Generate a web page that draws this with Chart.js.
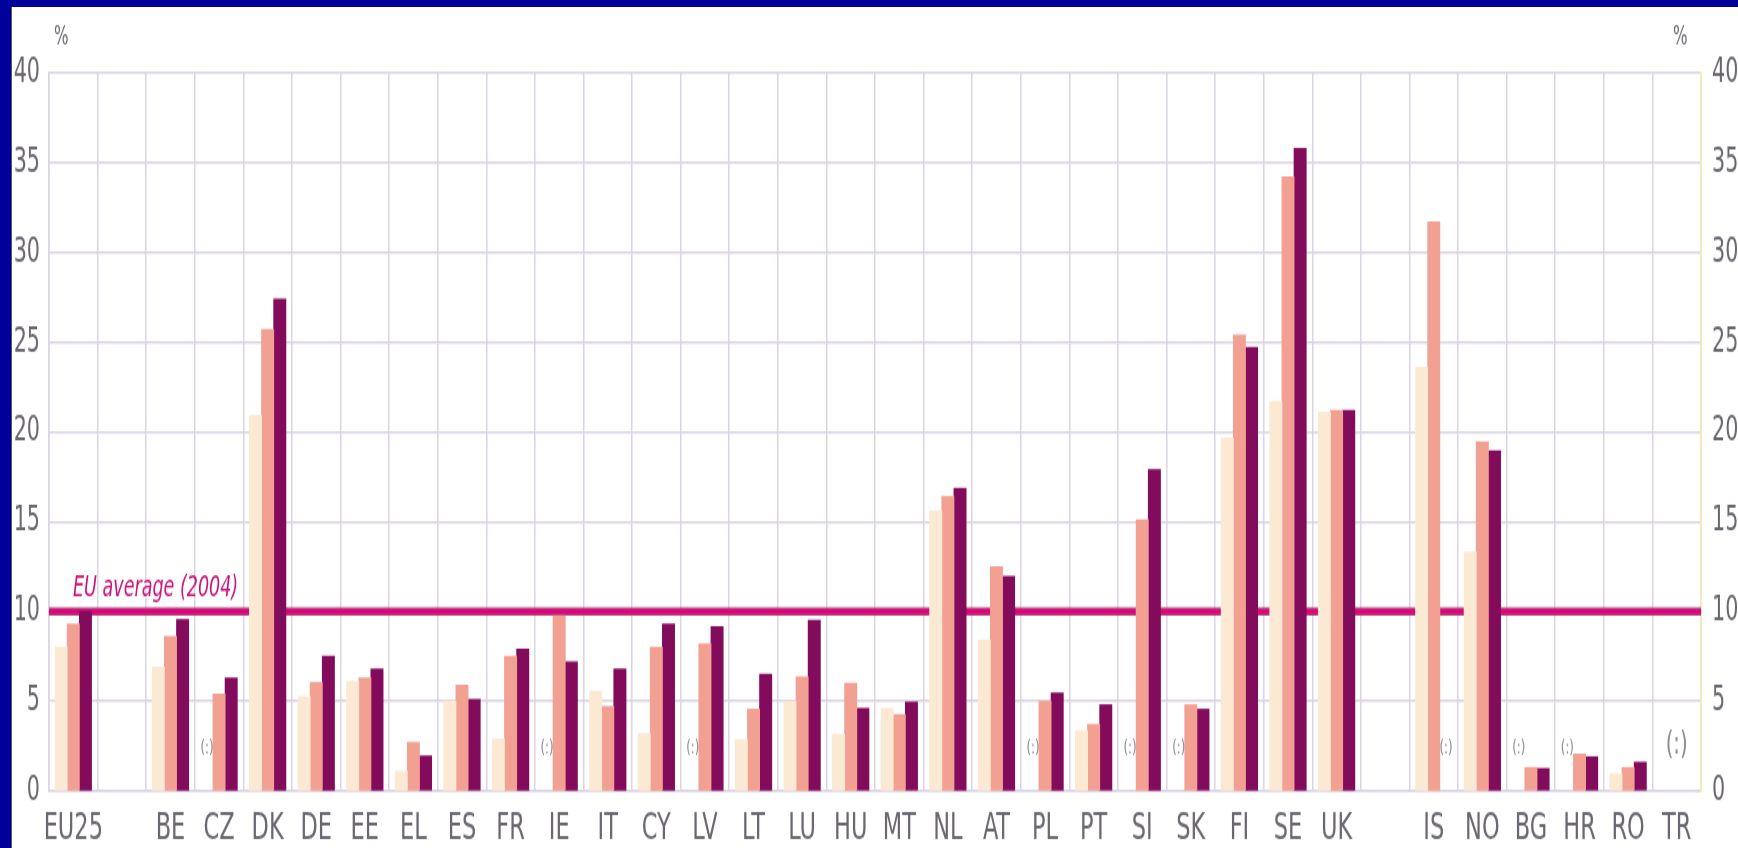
<!DOCTYPE html>
<html>
<head>
<meta charset="utf-8">
<script src="https://cdn.jsdelivr.net/npm/chart.js@4.4.1/dist/chart.umd.min.js"></script>
<style>
  html, body { margin: 0; padding: 0; }
  body { width: 1738px; height: 848px; background: #00009a; position: relative; overflow: hidden; }
  #wrap { position: absolute; left: 11px; top: 7px; width: 1727px; height: 841px; background: #ffffff; border-left: 1px solid #555; box-sizing: border-box; }
  #c { display: block; width: 1726px; height: 841px; }
</style>
</head>
<body>
<div id="wrap"><canvas id="c" width="1726" height="561" style="width:1726px;height:841px"></canvas></div>
<script>
// ---- Data ----
const categories = ['EU25', '', 'BE', 'CZ', 'DK', 'DE', 'EE', 'EL', 'ES', 'FR', 'IE', 'IT', 'CY', 'LV', 'LT', 'LU', 'HU', 'MT', 'NL', 'AT', 'PL', 'PT', 'SI', 'SK', 'FI', 'SE', 'UK', '', 'IS', 'NO', 'BG', 'HR', 'RO', 'TR'];
const lightValues = [8.0, null, 6.9, null, 20.9, 5.25, 6.1, 1.1, 5.0, 2.9, null, 5.55, 3.2, null, 2.85, 5.0, 3.15, 4.6, 15.6, 8.4, null, 3.35, null, null, 19.65, 21.7, 21.1, null, 23.6, 13.3, null, null, 0.95, null];
const midValues   = [9.3, null, 8.6, 5.4, 25.7, 6.05, 6.3, 2.7, 5.9, 7.5, 9.75, 4.7, 8.0, 8.2, 4.55, 6.35, 6.0, 4.25, 16.4, 12.5, 5.0, 3.7, 15.1, 4.8, 25.4, 34.2, 21.2, null, 31.7, 19.45, 1.3, 2.05, 1.3, null];
const darkValues  = [10.0, null, 9.55, 6.3, 27.4, 7.5, 6.8, 1.95, 5.1, 7.9, 7.2, 6.8, 9.3, 9.15, 6.5, 9.5, 4.6, 4.95, 16.85, 11.95, 5.45, 4.8, 17.9, 4.55, 24.7, 35.8, 21.2, null, null, 18.95, 1.25, 1.9, 1.6, null];
const seriesNames = ['Series 1', 'Series 2', 'Series 3 (2004)'];
const yTicks = [0, 5, 10, 15, 20, 25, 30, 35, 40];
const euAverage = 10;
const euAverageLabel = 'EU average (2004)';
const missingMark = '(:)';
const unitLabel = '%';

const textGray = '#6b6670';
const gridColor = '#dcd3e4';
const cond = "'DejaVu Sans Condensed', 'DejaVu Sans', sans-serif";

const extras = {
  id: 'extras',
  beforeDatasetsDraw(chart) {
    const ctx = chart.ctx, a = chart.chartArea, y = chart.scales.y;
    const py = y.getPixelForValue(euAverage);
    ctx.save();
    ctx.lineCap = 'butt';
    ctx.strokeStyle = '#a8447a';
    ctx.lineWidth = 5.5;
    ctx.beginPath(); ctx.moveTo(a.left, py); ctx.lineTo(a.right, py); ctx.stroke();
    ctx.strokeStyle = '#e4007d';
    ctx.lineWidth = 3;
    ctx.beginPath(); ctx.moveTo(a.left, py); ctx.lineTo(a.right, py); ctx.stroke();
    ctx.restore();
  },
  afterDatasetsDraw(chart) {
    const ctx = chart.ctx, a = chart.chartArea, x = chart.scales.x, y = chart.scales.y;
    const series = [lightValues, midValues, darkValues];
    const slot = (a.right - a.left) / categories.length;
    const barW = slot * 0.75 / 3;
    ctx.save();
    // EU average label
    ctx.fillStyle = '#c8157a';
    ctx.font = "italic 19.5px " + cond;
    ctx.textAlign = 'left';
    ctx.textBaseline = 'alphabetic';
    ctx.fillText(euAverageLabel, a.left + 24, y.getPixelForValue(euAverage) - 10);
    // missing-data marks
    ctx.fillStyle = '#8d8894';
    ctx.textAlign = 'center';
    ctx.textBaseline = 'middle';
    categories.forEach((cat, i) => {
      if (cat === '') return;
      const cx = x.getPixelForValue(i);
      const allMissing = series.every(s => s[i] === null);
      if (allMissing) {
        ctx.font = "22px " + cond;
        ctx.fillText(missingMark, cx, y.getPixelForValue(2.55));
        return;
      }
      ctx.font = "13px " + cond;
      series.forEach((s, d) => {
        if (s[i] === null) {
          ctx.fillText(missingMark, cx + (d - 1) * barW, y.getPixelForValue(2.4));
        }
      });
    });
    // unit labels
    ctx.fillStyle = textGray;
    ctx.font = "17px " + cond;
    ctx.textAlign = 'left';
    ctx.textBaseline = 'alphabetic';
    ctx.fillText(unitLabel, 42, 25);
    ctx.fillText(unitLabel, 1661, 25);
    ctx.restore();
  }
};

const tickFont = { family: cond, size: 23 };

new Chart(document.getElementById('c'), {
  type: 'bar',
  data: {
    labels: categories,
    datasets: [
      { label: seriesNames[0], data: lightValues, backgroundColor: '#fce9d3', borderWidth: 0, inflateAmount: 0.4 },
      { label: seriesNames[1], data: midValues, backgroundColor: '#f2a092', borderWidth: 0, inflateAmount: 0.4 },
      { label: seriesNames[2], data: darkValues, backgroundColor: '#820b5c', borderWidth: 0, inflateAmount: 0.4 }
    ]
  },
  options: {
    responsive: false,
    animation: false,
    devicePixelRatio: 1,
    categoryPercentage: 0.75,
    barPercentage: 1.0,
    layout: { padding: { top: 44, left: 0, right: 0, bottom: 0 } },
    plugins: { legend: { display: false }, tooltip: { enabled: false } },
    scales: {
      x: {
        grid: { color: gridColor, lineWidth: 1.5, offset: true, drawTicks: false },
        border: { color: gridColor, width: 1.5 },
        ticks: { color: textGray, font: { family: cond, size: 25 }, padding: 10, maxRotation: 0, minRotation: 0, autoSkip: false },
        afterFit(s) { s.height = 38; }
      },
      y: {
        position: 'left',
        min: 0, max: 40,
        afterBuildTicks(s) { s.ticks = yTicks.map(v => ({ value: v })); },
        grid: { color: gridColor, lineWidth: 1.5, drawTicks: false },
        border: { color: gridColor, width: 1.5 },
        ticks: { color: textGray, font: tickFont, padding: 9 },
        afterFit(s) { s.width = 37; }
      },
      y2: {
        position: 'right',
        min: 0, max: 40,
        afterBuildTicks(s) { s.ticks = yTicks.map(v => ({ value: v })); },
        grid: { display: false, drawTicks: false },
        border: { color: '#f3eaa8', width: 1.5 },
        ticks: { color: textGray, font: tickFont, padding: 11 },
        afterFit(s) { s.width = 37; }
      }
    }
  },
  plugins: [extras]
});
</script>
</body>
</html>
